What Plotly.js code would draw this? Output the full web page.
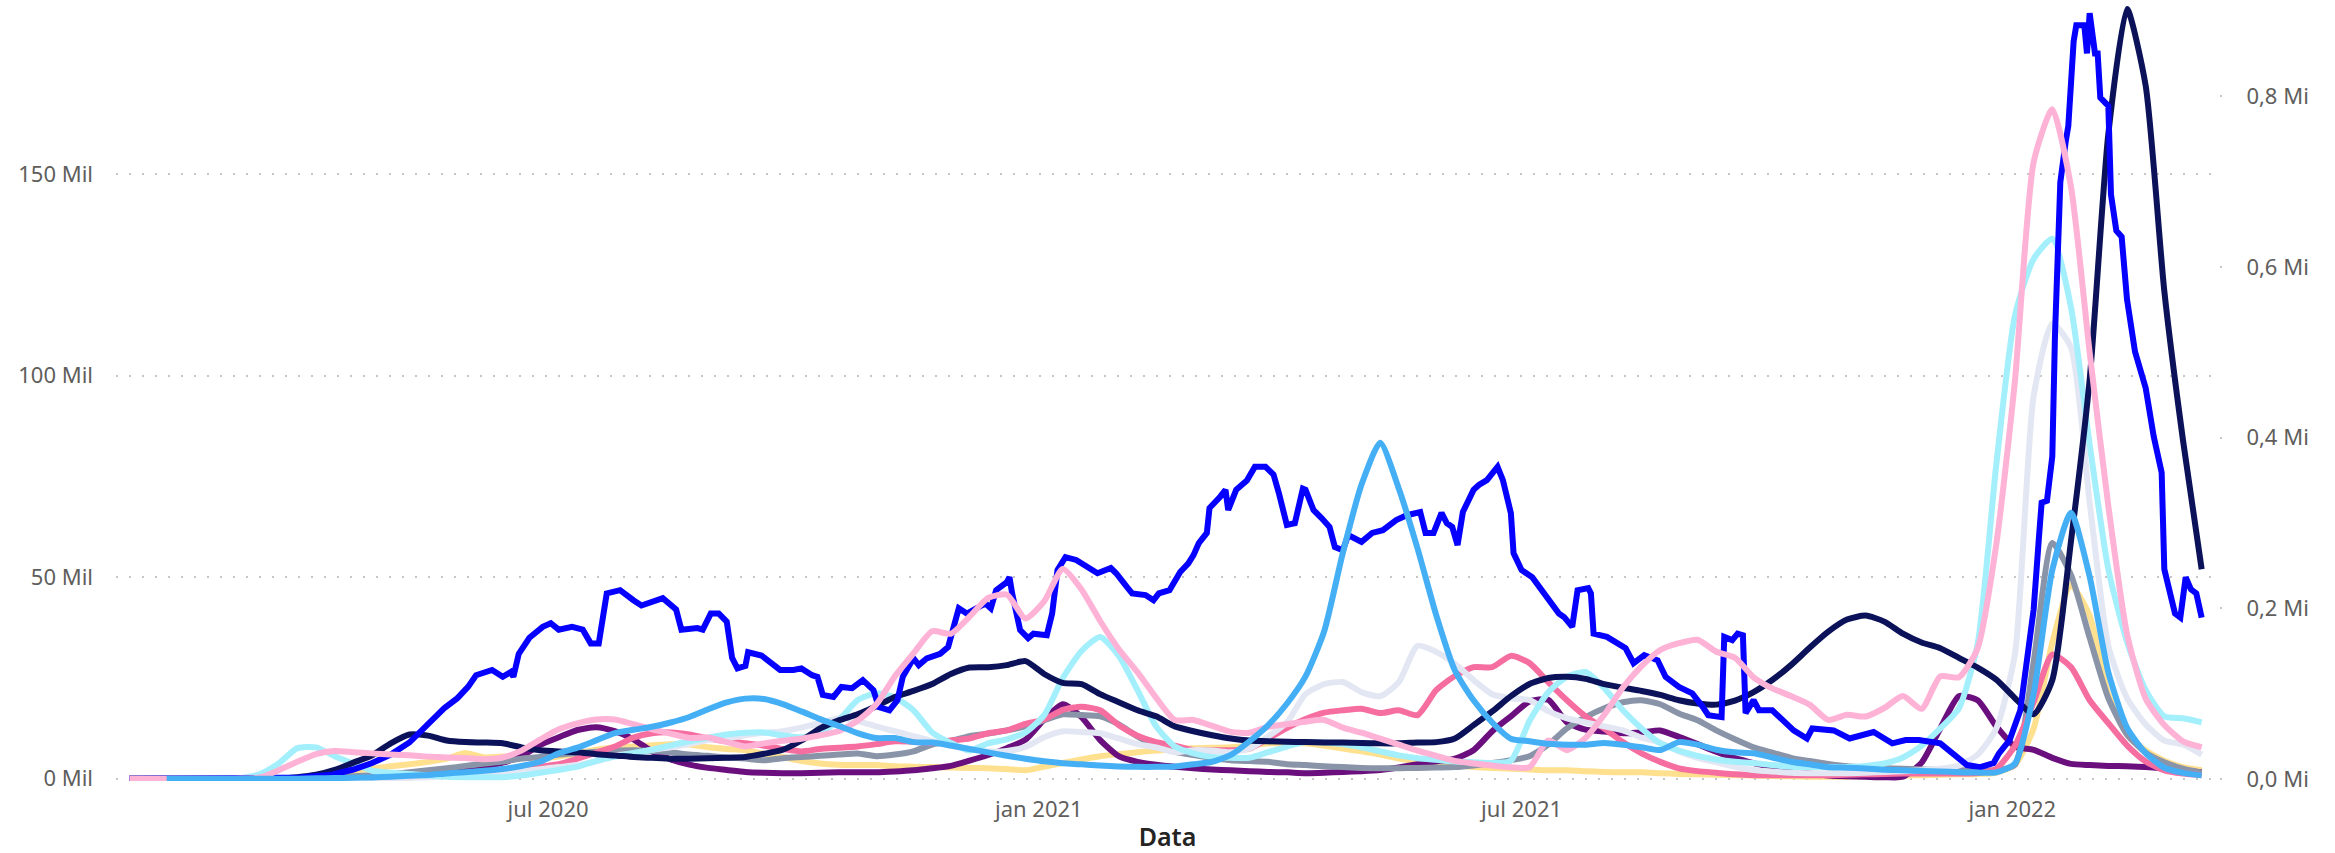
<!DOCTYPE html>
<html>
<head>
<meta charset="utf-8">
<script src="https://cdn.plot.ly/plotly-3.0.1.min.js"></script>
<style>html,body{margin:0;padding:0;background:#fff;}#chart{width:2335px;height:853px;}</style>
</head>
<body>
<div id="chart"></div>
<script>
// weekly sample dates shared by most series
const weekDates = [
"2020-01-26","2020-02-02","2020-02-09","2020-02-16","2020-02-23","2020-03-01","2020-03-08","2020-03-15","2020-03-22","2020-03-29",
"2020-04-05","2020-04-12","2020-04-19","2020-04-26","2020-05-03","2020-05-10","2020-05-17","2020-05-24","2020-05-31","2020-06-07",
"2020-06-14","2020-06-21","2020-06-28","2020-07-05","2020-07-12","2020-07-19","2020-07-26","2020-08-02","2020-08-09","2020-08-16",
"2020-08-23","2020-08-30","2020-09-06","2020-09-13","2020-09-20","2020-09-27","2020-10-04","2020-10-11","2020-10-18","2020-10-25",
"2020-11-01","2020-11-08","2020-11-15","2020-11-22","2020-11-29","2020-12-06","2020-12-13","2020-12-20","2020-12-27",
"2021-01-03","2021-01-10","2021-01-17","2021-01-24","2021-01-31","2021-02-07","2021-02-14","2021-02-21","2021-02-28","2021-03-07",
"2021-03-14","2021-03-21","2021-03-28","2021-04-04","2021-04-11","2021-04-18","2021-04-25","2021-05-02","2021-05-09","2021-05-16",
"2021-05-23","2021-05-30","2021-06-06","2021-06-13","2021-06-20","2021-06-27","2021-07-04","2021-07-11","2021-07-18","2021-07-25",
"2021-08-01","2021-08-08","2021-08-15","2021-08-22","2021-08-29","2021-09-05","2021-09-12","2021-09-19","2021-09-26","2021-10-03",
"2021-10-10","2021-10-17","2021-10-24","2021-10-31","2021-11-07","2021-11-14","2021-11-21","2021-11-28","2021-12-05","2021-12-12",
"2021-12-19","2021-12-26",
"2022-01-02","2022-01-09","2022-01-16","2022-01-23","2022-01-30","2022-02-06","2022-02-13","2022-02-20","2022-02-27","2022-03-06","2022-03-13"
];

// values in thousands (Mil)
const russia = [0,0,0,0,0,0,0,
0.05,0.1,0.4,1.0,2.2,4.0,5.8,8.8,11,10.7,9.5,9.1,9.0,8.8,7.8,7.1,
6.8,6.6,6.1,5.8,5.4,5.2,5.0,5.0,5.1,5.2,5.4,6.2,7.2,9.5,12.5,14.5,16,18,20.3,21.8,23.5,26,27.6,27.7,28.2,29.2,
26,23.8,23.5,21,19,17,15.5,13,11.8,10.8,10,9.5,9.3,9.2,9.1,9.0,9.0,8.9,8.8,8.8,9.0,9.1,
10,13.3,16.7,20.5,23.5,25,25.3,24.8,23.5,22.6,21.8,20.8,19.5,18.7,18.4,19.4,21.5,24.5,28.2,32.5,36.5,39.5,40.5,39,36,33.8,32.4,30,27.6,24.6,
20,16,24.5,59,99,160,191,172,121,84,52];

const spain = [0,0,0,0,0,0.05,
0.2,1.2,3.8,7.6,7.8,5.6,3.8,2.0,1.5,1.2,0.8,0.5,0.4,0.4,0.4,0.8,1.5,
2.2,3.0,4.4,5.5,6.4,7.2,8.3,9.3,10.2,11.0,11.4,11.5,10.8,10.3,11.5,14.5,19.5,21.2,20.2,17,11.5,8.9,7.0,8.8,9.8,11.5,
15.8,25,31.7,35.2,30.5,22,13,8,6.3,5.4,5.2,5.2,6.6,8,9.1,9,8.6,7.8,6.8,5.8,5.1,4.7,
4.3,4.1,3.9,4.5,14.4,21.5,25.3,26.5,22.5,17,12.5,8.8,7,5.7,4.8,4.2,3.9,3.4,3.0,2.9,2.9,2.9,3.2,3.8,5.3,8.2,12.5,17.5,33.5,78,
115,129,134,117,83,52,34,22,15.5,15,14];

const argentina = [0,0,0,0,0,0,0,0,0,
0.1,0.1,0.1,0.1,0.15,0.2,0.25,0.4,0.6,0.8,1.0,1.4,1.9,2.4,
2.9,3.4,4.3,5.8,6.2,7.2,7.8,8.6,9.6,10.0,10.8,11.4,11.8,12.7,13.8,15,14.3,13,11.8,10.6,9.4,8.2,7.4,6.8,6.9,7.9,
10.3,11.8,11.6,11.3,10,8.6,7.8,6.6,7.1,7.0,6.6,7.5,10.5,14,21,23.5,24,21.5,20.5,24,33,31.5,
28.5,24.5,21,20,19.5,16.8,15,14,13,12,10.2,9,6.8,5.2,4.1,3.0,2.2,1.8,1.5,1.4,1.4,1.4,1.5,1.7,1.9,2.1,2.5,3.3,6,12.5,
31,95,113,107,68.6,33,20,13.5,9.5,8.5,6];

const mexico = [0,0,0,0,0,0,0,0,0,
0.1,0.2,0.4,0.6,0.9,1.2,1.6,2.1,2.6,3.2,3.8,4.3,5.0,5.4,
6.0,6.4,6.7,7.0,7.1,6.9,6.6,6.0,5.7,5.3,5.0,4.6,5.1,5.4,5.7,6.0,6.3,5.6,6.0,6.8,8.5,9.4,10.6,11.2,12,13,
14.5,16,15.8,15.5,13.5,10.5,8.0,6.7,5.9,5.2,4.6,4.4,4.2,3.6,3.4,3.1,2.9,2.7,2.6,2.6,2.7,2.8,
2.9,3.3,3.9,4.6,5.6,8.5,12.5,15.3,17.5,19,19.5,18.5,16.2,14.5,12,9.8,7.8,6.5,5.2,4.4,3.7,3.1,2.8,2.6,2.5,2.3,2.2,2.1,2.1,2.1,
3.5,29,58.5,50.6,35,20,11,6.5,4.1,2.5,1.5];

const colombia = [0,0,0,0,0,0,0,0,0,
0.05,0.1,0.1,0.15,0.2,0.3,0.4,0.6,0.8,1.0,1.3,1.7,2.2,3.0,
3.6,5.0,6.5,8.0,10.2,11.3,11.5,11,10,9.3,8.8,8.2,7.4,6.8,7.4,7.7,8.0,8.6,9.3,9.2,8.9,9.5,10,11.3,12,13.6,
14.7,17.1,17.9,17,13.3,10.7,9.1,8.2,7.1,7.1,7.1,7.5,10,12.6,14.8,16.4,17,17.4,16.3,17,15.8,22,
25.5,27.7,27.7,30.5,28.7,24,19.5,15.5,12.5,9.1,6.3,4.2,2.6,1.9,1.5,1.1,0.9,0.9,0.9,0.9,0.9,1.0,1.1,1.2,1.3,1.3,1.3,1.3,1.4,2.5,
8.2,19,30.8,27.7,19.5,13.8,8.3,4.3,2.1,1.3,0.9];

const southAfrica = [0,0,0,0,0,0,0,0,0,
0.05,0.1,0.1,0.15,0.25,0.4,0.7,1.1,1.6,2.2,3.0,4.0,5.6,8.4,
10.3,12.1,12.8,11.8,9.8,6.8,4.8,3.5,2.7,2.2,1.7,1.5,1.4,1.4,1.5,1.6,1.6,1.6,1.8,2.1,2.6,3.2,4.5,5.9,7.6,9.7,
14.7,18.5,15.3,9.6,5.6,4.2,3.5,3.0,2.6,2.3,2.1,1.9,1.7,1.6,1.4,1.5,1.7,1.9,2.2,2.8,3.6,4.3,
5.0,7.1,11.8,15.5,19.2,19.6,14,12.2,11.7,11.3,11.5,12,10.4,8.6,6.7,5.1,3.9,2.9,1.9,1.3,0.8,0.6,0.5,0.4,0.5,4.0,12.5,20.5,19.5,13,
8,7.2,5.2,3.7,3.4,3.2,3.1,2.9,2.5,2.0,1.6];

const peru = [0,0,0,0,0,0,0,0,0,0,
0.3,0.8,2.0,2.5,3.1,3.6,4.2,5.0,6.4,5.3,5.5,5.3,5.0,
5.5,6.3,7.2,7.8,8.0,8.3,8.6,8.5,7.8,7.4,7.1,6.2,5.4,4.4,3.8,3.5,3.4,3.4,3.1,3.0,2.9,2.8,2.7,2.6,2.4,2.1,
3.0,3.9,4.8,5.6,6.1,6.6,7.0,7.4,7.6,7.7,7.8,8.2,8.8,8.8,8.8,8.2,7.5,6.8,6.0,5.0,4.3,3.9,
3.4,2.9,2.7,2.5,2.3,2.1,2.1,1.9,1.7,1.6,1.6,1.4,1.2,1.1,1.0,0.9,0.8,0.7,0.6,0.5,0.5,0.5,0.6,0.7,0.8,0.9,1.0,1.1,1.2,1.5,
3.5,12.5,33.8,48,40.5,21,11,7,4.5,2.9,2.1];

// secondary axis series (thousands)
const usa = [0,0,0,0,0,0,
0.3,1.5,10,20,29,32.5,31.2,29.8,28.5,27.5,26,25,24.4,23,25,33,46,
58,65,69.5,69.5,64,58,53,48,48.5,43,38,41.5,44.5,47,51,56,68,87,120,147,173,170,190,212,216,188,
208,246,222,185,152,125,95,69,69,62,55,54,61,64,67,69,60,54,47,40,33,27,
21,18,15.5,13.5,13.5,45,33.5,48,75,107,132,151,159,163,149,142,119,106,97,87,69,75,73,83,97,82,120,119,153,275,
467,723,785,694,500,320,170,94,63,44,37];

const india = [null,null,
0,0,0,0,0.005,0.02,0.06,0.15,0.5,0.8,1.2,1.6,2.4,3.5,4.4,6.2,7.7,9.4,11.5,15,20,
30,36.5,45,53.5,57.5,61,66,72.5,81.5,89.5,94,93.5,87.5,79,70,62,53.5,47.8,47.8,43,42.5,39,35,31,27,23.5,
20.5,18.3,17,15.5,14.5,14,14,14.5,17,20,28,44,63,88,120,173,265,345,394,340,270,192,
127,92,66,47,44,41,40,40,42,40,37,33.7,43,40,34,31,30,25,20,17,13.5,13,12,10.5,10,9,8.5,7.8,7.3,7.6,
18,100,245,312,237,125,60,30,13,7,4];

// Brazil read at its own (irregular) dates
const brazilDates = [
"2020-01-26","2020-03-10","2020-03-30","2020-04-11","2020-04-19","2020-04-26","2020-05-03","2020-05-10","2020-05-13","2020-05-18",
"2020-05-23","2020-05-28","2020-06-01","2020-06-04","2020-06-10","2020-06-14","2020-06-17","2020-06-18","2020-06-20","2020-06-24",
"2020-06-29","2020-07-02","2020-07-05","2020-07-10","2020-07-14","2020-07-17","2020-07-20","2020-07-23","2020-07-28","2020-08-02",
"2020-08-05","2020-08-13","2020-08-18","2020-08-20","2020-08-26","2020-08-28","2020-08-31","2020-09-03","2020-09-06","2020-09-08",
"2020-09-10","2020-09-13","2020-09-14","2020-09-19","2020-09-23","2020-09-26","2020-10-01","2020-10-04","2020-10-08","2020-10-10",
"2020-10-12","2020-10-16","2020-10-19","2020-10-23","2020-10-27","2020-10-31","2020-11-02","2020-11-06","2020-11-09","2020-11-11",
"2020-11-15","2020-11-17","2020-11-20","2020-11-25","2020-11-28","2020-11-30","2020-12-02","2020-12-05","2020-12-07","2020-12-12",
"2020-12-14","2020-12-16","2020-12-20","2020-12-21","2020-12-22","2020-12-25","2020-12-28","2020-12-30","2021-01-04","2021-01-06",
"2021-01-08","2021-01-11","2021-01-15","2021-01-20","2021-01-23","2021-01-28","2021-01-30","2021-02-03","2021-02-05","2021-02-10",
"2021-02-13","2021-02-15","2021-02-19","2021-02-23","2021-02-26","2021-02-28","2021-03-02","2021-03-05","2021-03-06","2021-03-10",
"2021-03-12","2021-03-13","2021-03-16","2021-03-20","2021-03-23","2021-03-27","2021-03-30","2021-04-01","2021-04-03","2021-04-04",
"2021-04-07","2021-04-10","2021-04-11","2021-04-14","2021-04-17","2021-04-20","2021-04-22","2021-04-25","2021-04-27","2021-05-02",
"2021-05-06","2021-05-10","2021-05-15","2021-05-19","2021-05-24","2021-05-26","2021-05-29","2021-06-01","2021-06-03","2021-06-05",
"2021-06-07","2021-06-09","2021-06-13","2021-06-15","2021-06-18","2021-06-22","2021-06-24","2021-06-26","2021-06-27","2021-06-28",
"2021-07-01","2021-07-05","2021-07-08","2021-07-12","2021-07-15","2021-07-17","2021-07-20","2021-07-22","2021-07-26","2021-07-27",
"2021-07-28","2021-08-02","2021-08-06","2021-08-09","2021-08-12","2021-08-16","2021-08-21","2021-08-24","2021-08-29","2021-09-03",
"2021-09-07","2021-09-09","2021-09-14","2021-09-15","2021-09-18","2021-09-20","2021-09-22","2021-09-23","2021-09-26","2021-09-28",
"2021-10-03","2021-10-06","2021-10-11","2021-10-16","2021-10-18","2021-10-26","2021-11-01","2021-11-10","2021-11-17","2021-11-22",
"2021-11-27","2021-12-05","2021-12-10","2021-12-15","2021-12-20","2021-12-25","2021-12-27","2021-12-31","2022-01-04","2022-01-07",
"2022-01-09","2022-01-11","2022-01-12","2022-01-14","2022-01-16","2022-01-17","2022-01-19","2022-01-21","2022-01-22","2022-01-24",
"2022-01-25","2022-01-28","2022-01-29","2022-01-30","2022-02-01","2022-02-02","2022-02-03","2022-02-06","2022-02-07","2022-02-09",
"2022-02-11","2022-02-13","2022-02-16","2022-02-20","2022-02-23","2022-02-26","2022-02-27","2022-03-03","2022-03-05","2022-03-07",
"2022-03-09","2022-03-11","2022-03-13"
];
const brazil = [
0,0,0.3,1.0,2.3,3.9,6,9,11,14.5,
17.5,20,22.8,25.7,27,25.3,26.5,25.3,31,35,
37.7,38.6,37,37.7,37,33.6,33.6,46,46.8,44.3,
43,44.8,42,37,37.4,37,41,41,39,30,
27.4,28,31.4,30.6,28.6,27,27,27.4,25.7,25.3,
20.8,20.3,22.8,22.5,24.5,22,17.8,17,19.5,25.3,
29.9,28.2,29.9,31,32.7,37.7,42.3,41,41.8,43.5,
42.3,46.8,48.8,50,46,36.9,34.9,36,35.6,41,
51.8,55,54.3,52.3,51,52.3,51,47.6,46,45.6,
44.3,46,46.8,51.3,53.4,55.5,58.5,61,67.2,70,
71.7,66.7,71.7,74,77.4,77.4,75.5,70.9,65,63,
63.4,72,71.7,66.7,64.7,62.5,57.5,56.7,60.5,58.8,
61,61.7,64.2,65.4,66.2,61,61,66,63.4,62.5,
58,66.2,71.7,72.9,74.1,77.4,74.1,69.2,65.9,56,
51.8,50,47.3,43.6,41,40.1,37.7,46.8,47.3,46,
36,35.2,33.6,32.4,28.7,30.7,29.4,25.3,22.8,21.2,
17.8,15.8,15.3,35.2,34.4,36,35.6,16.3,19.5,17,
17,15.3,12,10,12.5,12,10,11.6,8.8,9.6,
9.6,8.8,6.3,3.4,2.9,3.9,6.3,9.6,17,31,
42,60,68.5,69,80,110,148,158,162,183,
187,187,180,190,180,180,169,167,145,136,
134.5,119,106,97,85,76,52,41,40,50,
47,46,40
];

const seriesNames = ["Peru","África do Sul","México","Colômbia","Argentina","Espanha","Rússia","Brasil","Estados Unidos","Índia"];
const seriesColors = ["#FFE08F","#6A0F7D","#8A94A8","#F66D9F","#E3E7F3","#A3EFFC","#0B1259","#0500FF","#FDB2D6","#45AFF5"];

const xTickVals = ["2020-07-01","2021-01-01","2021-07-01","2022-01-01"];
const xTickText = ["jul 2020","jan 2021","jul 2021","jan 2022"];
const yLeftVals = [0,50,100,150];
const yLeftText = ["0 Mil","50 Mil","100 Mil","150 Mil"];
const yRightVals = [0,200,400,600,800];
const yRightText = ["0,0 Mi","0,2 Mi","0,4 Mi","0,6 Mi","0,8 Mi"];

const LW = 6;
const leftData = [peru, southAfrica, mexico, colombia, argentina, spain, russia];
const traces = [];
leftData.forEach((vals, i) => {
  traces.push({x: weekDates, y: vals, name: seriesNames[i], type: 'scatter', mode: 'lines',
    line: {color: seriesColors[i], width: LW, shape: 'spline', smoothing: 0.6}, yaxis: 'y', hoverinfo: 'skip'});
});
traces.push({x: brazilDates, y: brazil, name: seriesNames[7], type: 'scatter', mode: 'lines',
  line: {color: seriesColors[7], width: LW}, yaxis: 'y', hoverinfo: 'skip'});
traces.push({x: weekDates, y: usa, name: seriesNames[8], type: 'scatter', mode: 'lines',
  line: {color: seriesColors[8], width: LW, shape: 'spline', smoothing: 0.6}, yaxis: 'y2', hoverinfo: 'skip'});
traces.push({x: weekDates, y: india, name: seriesNames[9], type: 'scatter', mode: 'lines',
  line: {color: seriesColors[9], width: LW, shape: 'spline', smoothing: 0.6}, yaxis: 'y2', hoverinfo: 'skip'});

const fontFam = "'Segoe UI', 'Noto Sans', 'Open Sans', sans-serif";
const layout = {
  width: 2335, height: 853,
  margin: {l: 116, r: 116, t: 6, b: 72},
  paper_bgcolor: '#ffffff', plot_bgcolor: '#ffffff',
  showlegend: false,
  font: {family: fontFam, color: '#605E5C', size: 22},
  xaxis: {
    type: 'date', range: ['2020-01-21', '2022-03-19 12:00'],
    tickmode: 'array', tickvals: xTickVals, ticktext: xTickText,
    showgrid: false, zeroline: false, showline: false, ticks: '',
    tickfont: {size: 22, color: '#605E5C'}, ticklabelstandoff: 13,
    title: {text: 'Data', font: {size: 25, color: '#252423', weight: 600}, standoff: 11}
  },
  yaxis: {
    range: [-0.55, 191.76], tickmode: 'array', tickvals: yLeftVals, ticktext: yLeftText,
    showgrid: true, gridcolor: '#C8C6C4', gridwidth: 2, griddash: '2px,11px',
    zeroline: false, showline: false, ticks: '', ticklabelstandoff: 22,
    tickfont: {size: 22, color: '#605E5C'}
  },
  yaxis2: {
    overlaying: 'y', side: 'right', range: [-2.58, 906],
    tickmode: 'array', tickvals: yRightVals, ticktext: yRightText,
    showgrid: false, zeroline: false, showline: false,
    ticks: 'outside', ticklen: 2, tickwidth: 2, tickcolor: '#C8C6C4', ticklabelstandoff: 20,
    tickfont: {size: 22, color: '#605E5C'}
  }
};
Plotly.newPlot('chart', traces, layout, {displayModeBar: false, staticPlot: true});
</script>
</body>
</html>
